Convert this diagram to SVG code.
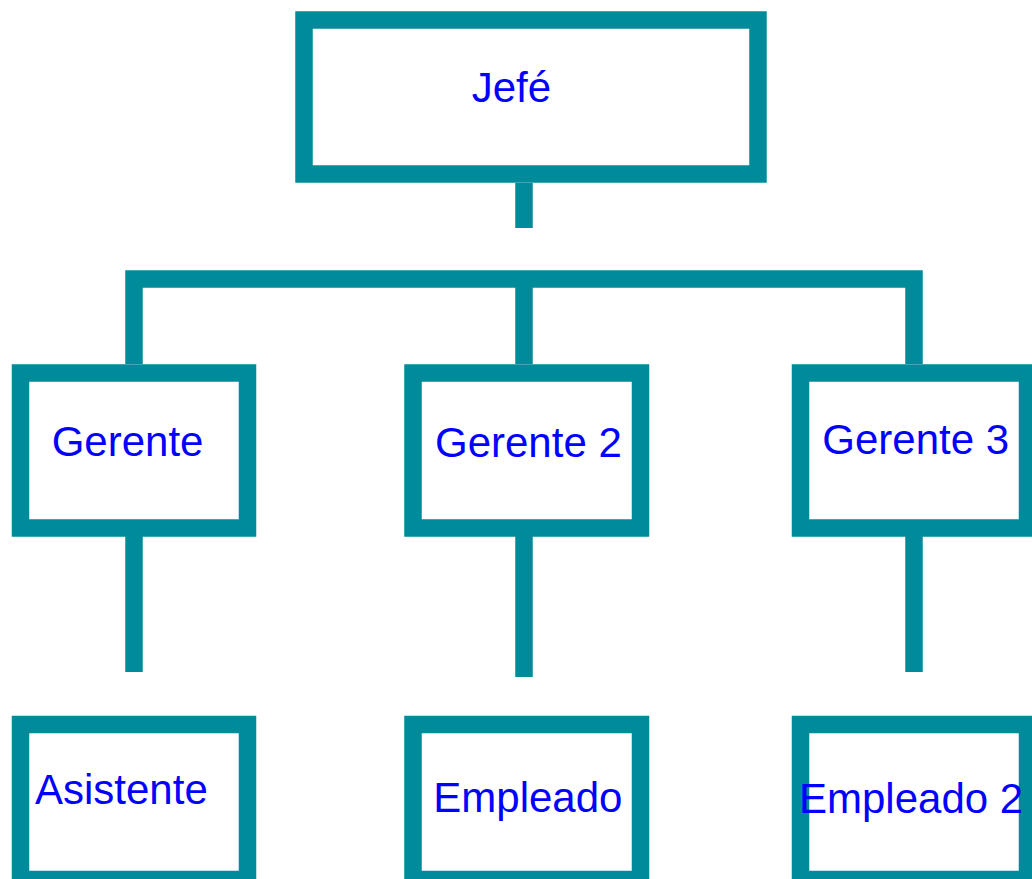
<svg xmlns="http://www.w3.org/2000/svg" width="1032" height="879" viewBox="0 0 1032 879">
<style>
.box{fill:#fff;stroke:#008B9B;stroke-width:17.5}
.ln{stroke:#008B9B;stroke-width:17.5;fill:none}
.t{font-family:"Liberation Sans",Arial,sans-serif;font-size:42px;fill:#0000FF}
</style>
<rect width="1032" height="879" fill="#fff"/>
<g id="connectors">
<line class="ln" x1="524" y1="183" x2="524" y2="228"/>
<polyline class="ln" points="134,364 134,279 914,279 914,364"/>
<line class="ln" x1="524" y1="279" x2="524" y2="364"/>
<line class="ln" x1="134" y1="536" x2="134" y2="672"/>
<line class="ln" x1="524" y1="536" x2="524" y2="677"/>
<line class="ln" x1="914" y1="536" x2="914" y2="672"/>
</g>
<g id="jefe"><rect class="box" x="304" y="20" width="454" height="154"/><text class="t" x="471.7" y="101.7">Jefé</text></g>
<g id="gerente"><rect class="box" x="20.5" y="373" width="227" height="155"/><text class="t" x="51.7" y="456">Gerente</text></g>
<g id="gerente2"><rect class="box" x="413" y="373" width="227.5" height="155"/><text class="t" x="435" y="456.5">Gerente 2</text></g>
<g id="gerente3"><rect class="box" x="800.5" y="373" width="227" height="155"/><text class="t" x="822.3" y="454.3">Gerente 3</text></g>
<g id="asistente"><rect class="box" x="20.5" y="724.5" width="227" height="155"/><text class="t" x="35" y="804">Asistente</text></g>
<g id="empleado"><rect class="box" x="413" y="724.5" width="227.5" height="155"/><text class="t" x="433.3" y="811.7">Empleado</text></g>
<g id="empleado2"><rect class="box" x="800.5" y="724.5" width="227" height="155"/><text class="t" x="799" y="813.3">Empleado 2</text></g>
</svg>
